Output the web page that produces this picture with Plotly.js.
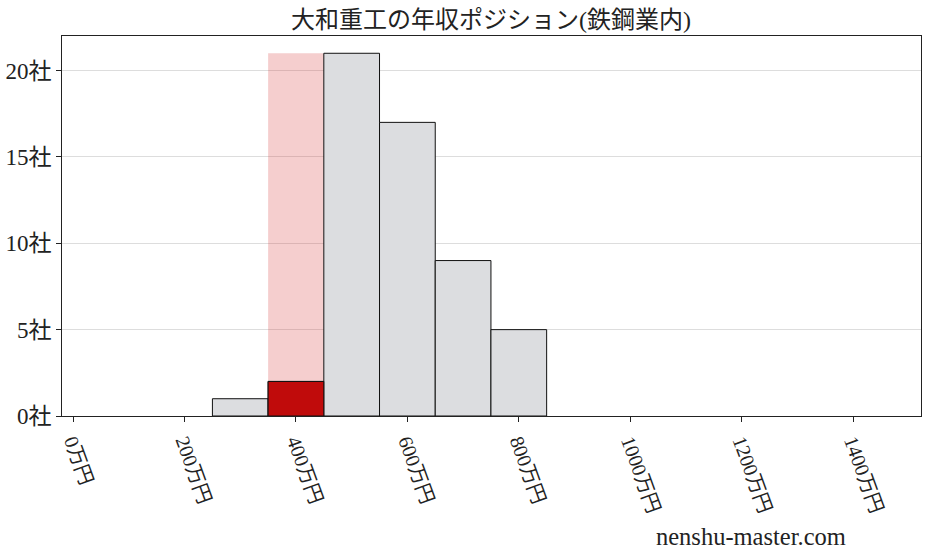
<!DOCTYPE html>
<html>
<head>
<meta charset="utf-8">
<script src="https://cdn.plot.ly/plotly-3.0.1.min.js"></script>
<style>html,body{margin:0;padding:0;background:#fff;}#chart{width:928px;height:557px;}</style>
</head>
<body>
<div id="chart"></div>
<script>
// Data
const binCenters = [300, 400, 500, 600, 700, 800];
const binCounts = [1, 2, 21, 17, 9, 5];
const binWidth = 100;
const highlightBin = [400];
const highlightCount = [2];
const bandHeight = [21];
const xTickVals = [0, 200, 400, 600, 800, 1000, 1200, 1400];
const xTickText = ["0万円", "200万円", "400万円", "600万円", "800万円", "1000万円", "1200万円", "1400万円"];
const yTickVals = [0, 5, 10, 15, 20];
const yTickText = ["0社", "5社", "10社", "15社", "20社"];
const titleText = "大和重工の年収ポジション(鉄鋼業内)";
const watermark = "nenshu-master.com";

const FONT = "'Liberation Serif', 'Noto Sans CJK JP', serif";

const traces = [
  {
    type: "bar", x: highlightBin, y: bandHeight, width: binWidth,
    marker: {color: "rgba(215,60,60,0.25)", line: {width: 0}},
    hoverinfo: "skip"
  },
  {
    type: "bar", x: binCenters, y: binCounts, width: binWidth,
    marker: {color: "#dcdde0", line: {color: "#111", width: 1}}
  },
  {
    type: "bar", x: highlightBin, y: highlightCount, width: binWidth,
    marker: {color: "#c00b0b", line: {color: "#111", width: 1}}
  }
];

const layout = {
  width: 928, height: 557,
  margin: {l: 62, r: 7, t: 36, b: 141},
  barmode: "overlay",
  showlegend: false,
  paper_bgcolor: "#fff", plot_bgcolor: "#fff",
  font: {family: FONT, color: "#222", size: 21},
  title: {text: titleText, font: {family: FONT, size: 24, color: "#222"}, x: 0.529, xanchor: "center", y: 0.965, yanchor: "middle"},
  xaxis: {
    range: [-20, 1522], tickvals: xTickVals, ticktext: xTickText, tickangle: 70,
    ticks: "outside", ticklen: 5, tickcolor: "#222", showgrid: false, zeroline: false,
    showline: true, linecolor: "#222", linewidth: 1, mirror: true,
    tickfont: {family: FONT, size: 20, color: "#222"}
  },
  yaxis: {
    range: [0, 22], tickvals: yTickVals, ticktext: yTickText,
    ticks: "outside", ticklen: 5, tickcolor: "#222", showgrid: true, gridcolor: "#dddddd", gridwidth: 1,
    zeroline: false, showline: true, linecolor: "#222", linewidth: 1, mirror: true,
    tickfont: {family: FONT, size: 23, color: "#222"}
  },
  annotations: [{
    text: watermark, xref: "paper", yref: "paper", x: 0.802, y: -0.316,
    xanchor: "center", yanchor: "middle", showarrow: false,
    font: {family: FONT, size: 24.5, color: "#222"}
  }]
};

Plotly.newPlot("chart", traces, layout, {staticPlot: true, displayModeBar: false});
</script>
</body>
</html>
